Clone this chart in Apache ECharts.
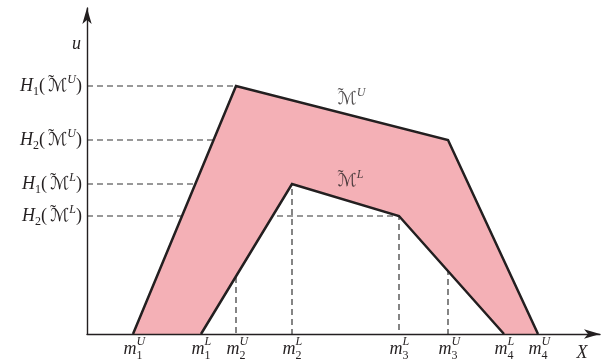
<!DOCTYPE html>
<html>
<head>
<meta charset="utf-8">
<script src="https://cdn.jsdelivr.net/npm/echarts@6/dist/echarts.min.js"></script>
<style>
html,body{margin:0;padding:0;background:#fff;}
#chart{width:604px;height:363px;}
</style>
</head>
<body>
<div id="chart"></div>
<script>
// corner points of the two trapezoids (x, u)
const upperX=[46,149,361,451];
const upperY=[0,248,194,0];
const lowerX=[114,205,312,417];
const lowerY=[0,150,118,0];

// tick labels
const xTickValues=[46,114,149,205,312,361,417,451];
const xTickSubs=['1','1','2','2','3','3','4','4'];
const xTickSups=['U','L','U','L','L','U','L','U'];
const yTickValues=[248,194,150,118];
const yTickSubs=['1','2','1','2'];
const yTickSups=['U','U','L','L'];

// set names and where they sit
const setNames=['U','L'];
const setLabelX=[263,262];
const setLabelY=[235,153];

const ink='#231f20';
const serif="'Liberation Serif','DejaVu Serif',serif";
const script="'DejaVu Serif','DejaVu Sans',serif";

const upperPts=upperX.map((x,i)=>[x,upperY[i]]);
const lowerPts=lowerX.map((x,i)=>[x,lowerY[i]]);
const bandPts=upperPts.concat(lowerPts.slice().reverse());

// dashed guides from both axes to the inner corners
const guidePts=[upperPts[1],upperPts[2],lowerPts[1],lowerPts[2]];
const guideSeries=guidePts.map(p=>({
    type:'line',
    z:1,
    silent:true,
    symbol:'none',
    data:[[0,p[1]],[p[0],p[1]],[p[0],0]],
    lineStyle:{color:'#333',width:1.2,type:[6,4]}
}));

// tilde + script M, tilde stacked over the M
const tildeM='{t|\u02DC}{m|\u2133}';

const calRich={
    h:{fontFamily:serif,fontStyle:'italic',fontSize:18,color:ink,lineHeight:24,align:'left'},
    n:{fontFamily:serif,fontSize:18,color:ink,lineHeight:24,align:'left'},
    t:{fontFamily:serif,fontSize:18,color:ink,lineHeight:14,verticalAlign:'top',width:0,align:'left',padding:[0,0,0,3]},
    m:{fontFamily:script,fontSize:18,color:ink,lineHeight:24,align:'left'},
    sup:{fontFamily:serif,fontStyle:'italic',fontSize:12,color:ink,lineHeight:15,verticalAlign:'top',align:'left'},
    sub:{fontFamily:serif,fontSize:12,color:ink,lineHeight:12,verticalAlign:'bottom',align:'left'}
};

const chart=echarts.init(document.getElementById('chart'));

chart.setOption({
    animation:false,
    grid:{left:87,right:4,top:8,bottom:29},
    xAxis:{
        type:'value',
        min:0,
        max:513,
        z:5,
        splitLine:{show:false},
        axisTick:{show:false},
        axisLine:{
            onZero:false,
            symbol:['none','arrow'],
            symbolSize:[7,16],
            lineStyle:{color:ink,width:1.4}
        },
        name:'X',
        nameLocation:'end',
        nameGap:-18,
        nameTextStyle:{
            fontFamily:serif,fontStyle:'italic',fontSize:18,color:ink,
            align:'center',verticalAlign:'top',padding:[10,0,0,0]
        },
        axisLabel:{
            customValues:xTickValues,
            margin:2,
            formatter(v){
                const i=xTickValues.indexOf(v);
                return '{m|m}{sup|'+xTickSups[i]+'}{sub|'+xTickSubs[i]+'}';
            },
            rich:{
                m:{fontFamily:serif,fontStyle:'italic',fontSize:18,color:ink,lineHeight:26,align:'left'},
                sup:{fontFamily:serif,fontStyle:'italic',fontSize:12,color:ink,lineHeight:16,verticalAlign:'top',width:0,align:'left'},
                sub:{fontFamily:serif,fontSize:12,color:ink,lineHeight:12,verticalAlign:'bottom',align:'left'}
            }
        }
    },
    yAxis:{
        type:'value',
        min:0,
        max:326,
        z:5,
        splitLine:{show:false},
        axisTick:{show:false},
        axisLine:{
            onZero:false,
            symbol:['none','arrow'],
            symbolSize:[7,16],
            lineStyle:{color:ink,width:1.4}
        },
        name:'u',
        nameLocation:'end',
        nameGap:-36,
        nameTextStyle:{
            fontFamily:serif,fontStyle:'italic',fontSize:18,color:ink,
            align:'right',verticalAlign:'middle',padding:[0,6,0,0]
        },
        axisLabel:{
            customValues:yTickValues,
            margin:5,
            formatter(v){
                const i=yTickValues.indexOf(v);
                return '{h|H}{sub|'+yTickSubs[i]+'}{n|(}'+tildeM+'{sup|'+yTickSups[i]+'}{n|)}';
            },
            rich:calRich
        }
    },
    series:guideSeries.concat([
        {
            type:'custom',
            z:2,
            silent:true,
            data:bandPts,
            renderItem(params,api){
                if(params.dataIndex!==0) return;
                return {
                    type:'polygon',
                    shape:{points:bandPts.map(p=>api.coord(p))},
                    style:{fill:'#f4b0b6',stroke:'none'}
                };
            }
        },
        {
            type:'line',
            z:3,
            silent:true,
            symbol:'none',
            data:upperPts,
            lineStyle:{color:ink,width:2.5,join:'miter'}
        },
        {
            type:'line',
            z:3,
            silent:true,
            symbol:'none',
            data:lowerPts,
            lineStyle:{color:ink,width:2.5,join:'miter'}
        },
        {
            type:'scatter',
            z:4,
            silent:true,
            symbolSize:0,
            data:setNames.map((n,i)=>({value:[setLabelX[i],setLabelY[i]],name:n})),
            label:{
                show:true,
                position:'inside',
                formatter:p=>tildeM+'{sup|'+p.name+'}',
                rich:calRich
            }
        }
    ])
});

window.addEventListener('resize',()=>chart.resize());
</script>
</body>
</html>
